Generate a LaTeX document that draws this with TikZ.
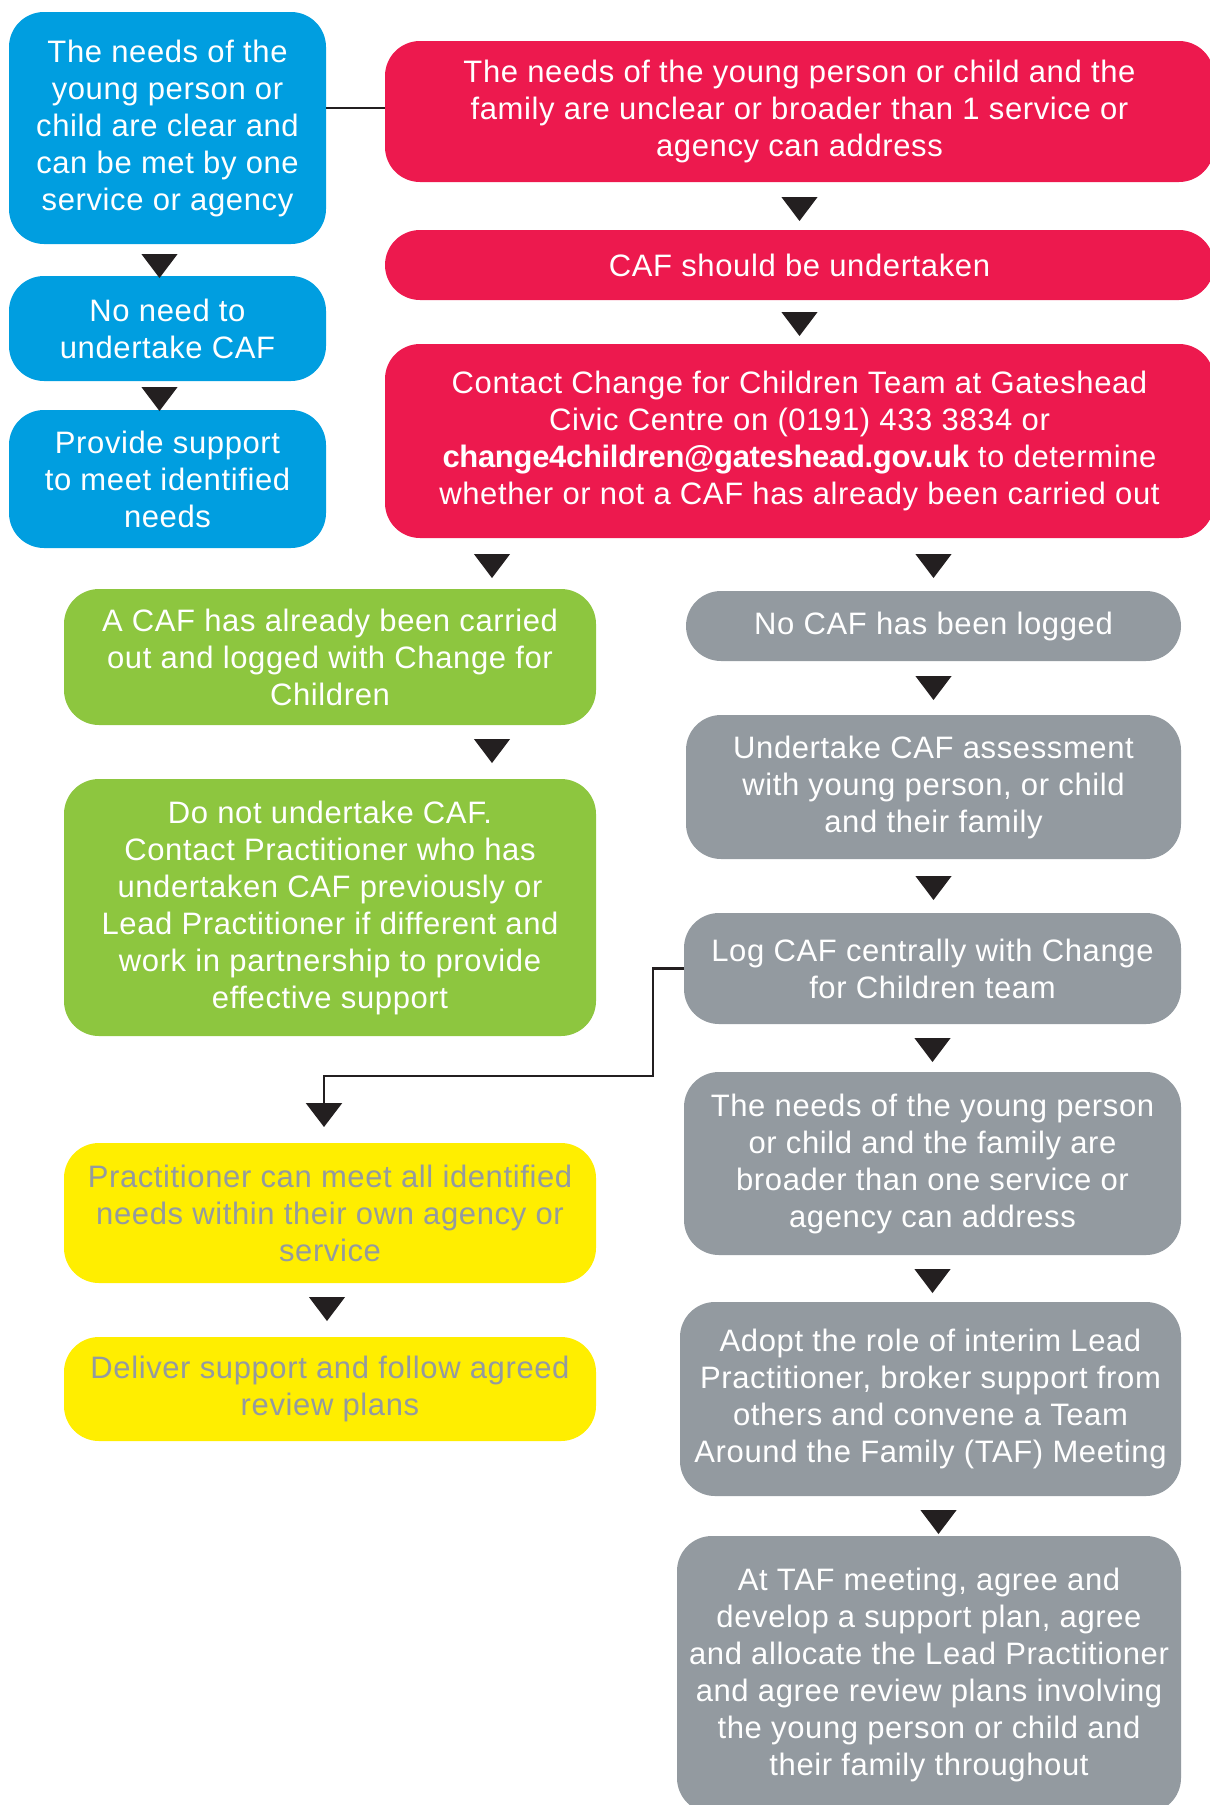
\documentclass[tikz,border=0pt]{standalone}
\usepackage{fontspec}
\setmainfont{Liberation Sans}[LetterSpace=2, BoldFeatures={LetterSpace=-1}]
\usetikzlibrary{arrows.meta, positioning}

\definecolor{cafblue}{RGB}{0,158,224}
\definecolor{cafred}{RGB}{237,25,78}
\definecolor{cafgreen}{RGB}{141,198,63}
\definecolor{cafgrey}{RGB}{147,154,160}
\definecolor{cafyellow}{RGB}{255,238,0}
\definecolor{arrowc}{RGB}{35,31,32}

\begin{document}
\begin{tikzpicture}[x=1pt, y=-1pt]
        \tikzstyle{box} = [rectangle, rounded corners=35pt, text=white, align=center, inner sep=4pt, outer sep=0pt, font=\fontsize{31}{37}\selectfont]
        \tikzstyle{bluebox} = [box, fill=cafblue, minimum width=317pt]
        \tikzstyle{redbox} = [box, fill=cafred, minimum width=829pt]
        \tikzstyle{greenbox} = [box, fill=cafgreen, minimum width=532pt]
        \tikzstyle{greybox} = [box, fill=cafgrey, minimum width=497pt]
        \tikzstyle{yellowbox} = [box, fill=cafyellow, text=cafgrey, minimum width=532pt]
        \tikzstyle{flow} = [-{Triangle[width=36pt,length=24pt]}, line width=1pt, arrowc]
        \tikzstyle{link} = [line width=2.5pt, arrowc]

        \useasboundingbox (0,0) rectangle (1210,1805);

        % left column
        \node (clear) [bluebox, minimum height=232pt] at (167.5,128) {The needs of the\\young person or\\child are clear and\\can be met by one\\service or agency};
        \node (nocaf) [bluebox, minimum height=105pt, below=32pt of clear] {No need to\\undertake CAF};
        \node (support) [bluebox, minimum height=138pt, below=29pt of nocaf] {Provide support\\to meet identified\\needs};

        % red column
        \node (unclear) [redbox, minimum height=141pt, right=59pt of clear, yshift=16.5pt] {The needs of the young person or child and the\\family are unclear or broader than 1 service or\\agency can address};
        \node (undertake) [redbox, minimum height=70pt, below=48pt of unclear] {CAF should be undertaken};
        \node (contact) [redbox, minimum height=194pt, below=44pt of undertake] {Contact Change for Children Team at Gateshead\\Civic Centre on (0191) 433 3834 or\\\textbf{change4children@gateshead.gov.uk} to determine\\whether or not a CAF has already been carried out};

        % CAF already carried out
        \node (logged) [greenbox, minimum height=136pt, below=41pt of support, xshift=162.5pt] {A CAF has already been carried\\out and logged with Change for\\Children};
        \node (partner) [greenbox, minimum height=257pt, below=54pt of logged] {Do not undertake CAF.\\Contact Practitioner who has\\undertaken CAF previously or\\Lead Practitioner if different and\\work in partnership to provide\\effective support};
        \node (ownagency) [yellowbox, minimum height=140pt, below=107pt of partner] {Practitioner can meet all identified\\needs within their own agency or\\service};
        \node (deliver) [yellowbox, minimum height=104pt, below=54pt of ownagency] {Deliver support and follow agreed\\review plans};

        % no CAF logged
        \node (notlogged) [greybox, minimum width=495pt, minimum height=70pt, below=53pt of contact, xshift=134pt] {No CAF has been logged};
        \node (assess) [greybox, minimum width=495pt, minimum height=144pt, below=54pt of notlogged] {Undertake CAF assessment\\with young person, or child\\and their family};
        \node (logcaf) [greybox, minimum height=111pt, below=54pt of assess, xshift=-1pt] {Log CAF centrally with Change\\for Children team};
        \node (broader) [greybox, minimum height=183pt, below=48pt of logcaf] {The needs of the young person\\or child and the family are\\broader than one service or\\agency can address};
        \node (interim) [greybox, minimum width=501pt, minimum height=194pt, below=47pt of broader, xshift=-2pt] {Adopt the role of interim Lead\\Practitioner, broker support from\\others and convene a Team\\Around the Family (TAF) Meeting};
        \node (tafmeet) [greybox, minimum width=504pt, minimum height=277pt, below=40pt of interim, xshift=-1.5pt] {At TAF meeting, agree and\\develop a support plan, agree\\and allocate the Lead Practitioner\\and agree review plans involving\\the young person or child and\\their family throughout};

        % connectors
        \draw [link] ([yshift=20pt]clear.east) -- ([yshift=20pt]clear.east -| unclear.west);
        \draw [link, -{Triangle[width=36pt,length=24pt]}, shorten >=16pt] (logcaf.west) -- ++(-31pt,0) |- ([xshift=-6pt,yshift=67pt]ownagency.north) -- ([xshift=-6pt]ownagency.north);

        \draw [flow, shorten <=10pt, shorten >=-2pt] ([xshift=-8pt]clear.south) -- ([xshift=-8pt]clear.south |- nocaf.north);
        \draw [flow, shorten <=6pt, shorten >=-1pt] ([xshift=-8pt]nocaf.south) -- ([xshift=-8pt]nocaf.south |- support.north);
        \draw [flow, shorten <=15pt, shorten >=9pt] (unclear.south) -- (undertake.north);
        \draw [flow, shorten <=12pt, shorten >=8pt] (undertake.south) -- (contact.north);
        \draw [flow, shorten <=16pt, shorten >=11pt] ([xshift=162pt]logged.north |- contact.south) -- ([xshift=162pt]logged.north);
        \draw [flow, shorten <=16pt, shorten >=13pt] (notlogged.north |- contact.south) -- (notlogged.north);
        \draw [flow, shorten <=14pt, shorten >=16pt] ([xshift=162pt]logged.south) -- ([xshift=162pt]logged.south |- partner.north);
        \draw [flow, shorten <=14pt, shorten >=16pt] ([xshift=-3pt]ownagency.south) -- ([xshift=-3pt]ownagency.south |- deliver.north);
        \draw [flow, shorten <=15pt, shorten >=15pt] (notlogged.south) -- (assess.north);
        \draw [flow, shorten <=17pt, shorten >=13pt] (assess.south) -- (assess.south |- logcaf.north);
        \draw [flow, shorten <=14pt, shorten >=10pt] (logcaf.south) -- (broader.north);
        \draw [flow, shorten <=14pt, shorten >=9pt] (broader.south) -- (broader.south |- interim.north);
        \draw [flow, shorten <=14pt, shorten >=2pt] ([xshift=8pt]interim.south) -- ([xshift=8pt]interim.south |- tafmeet.north);
\end{tikzpicture}
\end{document}
